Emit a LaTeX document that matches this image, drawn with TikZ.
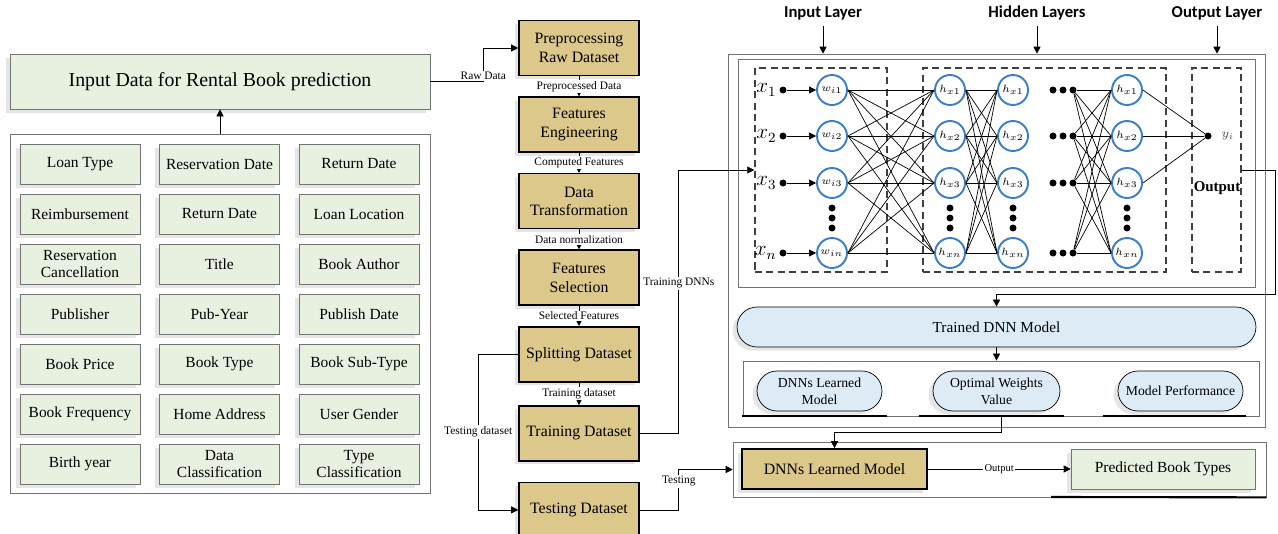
\documentclass[tikz,border=0pt]{standalone}
\usepackage{fontspec}
\setmainfont{Liberation Serif}
\newfontfamily\layerfont{Carlito}
\usetikzlibrary{positioning,arrows.meta,shadows}
\definecolor{attrgreen}{HTML}{E8F0E0}
\definecolor{stepgold}{HTML}{DCC88A}
\definecolor{pillblue}{HTML}{DDEBF6}
\definecolor{ringblue}{HTML}{3C7FC8}
\begin{document}
\begin{tikzpicture}[x=0.02cm,y=-0.02cm,>={Triangle[length=4pt,width=4pt]},
	softshadow/.style={drop shadow={shadow xshift=-2.5pt,shadow yshift=-2pt,fill=black,opacity=0.1}},
	attr/.style={draw=black!55,fill=attrgreen,softshadow,minimum width=2.4cm,minimum height=0.8cm,inner sep=1pt,align=center,font=\fontsize{8.8}{9.6}\selectfont},
	stepbox/.style={draw=black,line width=0.9pt,fill=stepgold,softshadow,minimum width=2.4cm,minimum height=1.1cm,inner sep=1pt,align=center,font=\fontsize{9}{10.5}\selectfont},
	flowlabel/.style={fill=white,inner sep=0.8pt,font=\fontsize{6.5}{7}\selectfont},
	pill/.style={draw=black,fill=pillblue,softshadow,rounded corners=0.4cm,minimum height=0.8cm,align=center,inner sep=1pt},
	panel/.style={draw=black!55},
	layerbox/.style={draw=black!75,line width=0.8pt,dash pattern=on 4pt off 2.5pt},
	neuron/.style={circle,draw=ringblue,line width=1.1pt,fill=white,minimum size=0.6cm,inner sep=0pt,font=\fontsize{6.3}{7}\selectfont},
	dot/.style={circle,fill=black,minimum size=0.14cm,inner sep=0pt},
	layertitle/.style={font=\layerfont\bfseries\fontsize{9.5}{10}\selectfont}]
	\useasboundingbox (0,0) rectangle (1278,534);
	\node[attr,minimum width=8.4cm,minimum height=1.1cm,font=\fontsize{11.3}{12}\selectfont] (title) at (220,81.5) {Input Data for Rental Book prediction};
	\node[panel,minimum width=8.4cm,minimum height=7.18cm] (attrs) at (220,313.5) {};
	\foreach \txt [count=\i from 0] in {Loan Type,Reservation Date,Return Date,Reimbursement,Return Date,Loan Location,{Reservation\\Cancellation},Title,Book Author,Publisher,Pub-Year,Publish Date,Book Price,Book Type,Book Sub-Type,Book Frequency,Home Address,User Gender,Birth year,{Data\\Classification},{Type\\Classification}}{
		\pgfmathtruncatemacro{\row}{\i/3}
		\pgfmathtruncatemacro{\col}{mod(\i,3)}
		\node[attr] (a\i) at (80+139.5*\col,164+50*\row) {\txt};
	}
	\draw[->] (attrs.north) -- (title.south);

	\node[stepbox] (prep) at (579,48) {Preprocessing\\Raw Dataset};
	\node[stepbox,below=0.4cm of prep] (feng) {Features\\Engineering};
	\node[stepbox,below=0.4cm of feng] (trans) {Data\\Transformation};
	\node[stepbox,below=0.4cm of trans] (fsel) {Features\\Selection};
	\node[stepbox,below=0.4cm of fsel] (split) {Splitting Dataset};
	\node[stepbox,below=0.45cm of split] (train) {Training Dataset};
	\node[stepbox,below=0.4cm of train] (test) {Testing Dataset};

	\node[layertitle] (inlab) at (823,13) {Input Layer};
	\node[layertitle] (hidlab) at (1037,13) {Hidden Layers};
	\node[layertitle] (outlab) at (1217,13) {Output Layer};
	\node[panel,minimum width=10.74cm,minimum height=7.46cm] (nnouter) at (996.5,240.5) {};
	\node[panel,minimum width=10.34cm,minimum height=4.56cm] (nninner) at (996.5,173) {};
	\node[layerbox,minimum width=2.64cm,minimum height=4.08cm] (inbox) at (821,170) {};
	\node[layerbox,minimum width=4.86cm,minimum height=4.08cm] (hidbox) at (1044.5,170) {};
	\node[layerbox,minimum width=0.98cm,minimum height=4.08cm] (outbox) at (1216.5,170) {};
	\draw[->] (inlab) -- (inlab |- nnouter.north);
	\draw[->] (hidlab) -- (hidlab |- nnouter.north);
	\draw[->] (outlab) -- (outlab |- nnouter.north);

	\foreach \r/\y in {1/90,2/136,3/183,n/253}{
		\node[dot] (d\r) at (783,\y) {};
		\node[font=\fontsize{11.5}{12}\selectfont,left=-2pt of d\r] (x\r) {$x_{\r}$};
		\node[neuron] (w\r) at (832,\y) {$w_{i\r}$};
		\node[neuron] (ha\r) at (950,\y) {$h_{x\r}$};
		\node[neuron] (hb\r) at (1013,\y) {$h_{x\r}$};
		\node[dot] (ea\r) at (1053,\y) {};
		\node[dot] (eb\r) at (1063,\y) {};
		\node[dot] (e\r) at (1073,\y) {};
		\node[neuron] (hc\r) at (1127,\y) {$h_{x\r}$};
		\draw[->] (d\r) -- (w\r);
	}
	\foreach \cx in {832,950,1013,1127}
		\foreach \cy in {208,218,228}
			\fill (\cx,\cy) circle (3.5);
	\foreach \a in {1,2,3,n}
		\foreach \b in {1,2,3,n}{
			\draw (w\a.east) -- (ha\b.west);
			\draw (ha\a.east) -- (hb\b.west);
			\draw (e\a) -- (hc\b.west);
		}
	\node[dot] (y) at (1208,136) {};
	\node[right=2pt of y,font=\fontsize{7.5}{8}\selectfont,text=black!70] (ylab) {$y_i$};
	\foreach \a in {1,2,3}
		\draw (hc\a.east) -- (y);
	\node[font=\bfseries\fontsize{8.5}{9}\selectfont] (outtxt) at (1217,188) {Output};

	\node[pill,minimum width=10.38cm,font=\fontsize{8.7}{9}\selectfont] (trained) at (996.5,327) {Trained DNN Model};
	\node[panel,minimum width=10.32cm,minimum height=1.1cm] (results) at (1001,388.5) {};
	\node[pill,minimum width=2.5cm,font=\fontsize{7.8}{9.5}\selectfont] (learnedpill) at (819.5,391) {DNNs Learned\\Model};
	\node[pill,minimum width=2.54cm,font=\fontsize{7.8}{9.5}\selectfont] (weights) at (996.5,391) {Optimal Weights\\Value};
	\node[pill,minimum width=2.5cm,font=\fontsize{7.8}{9.5}\selectfont] (perf) at (1180.5,391) {Model Performance};
	\draw[line width=1.2pt] (742,416) -- (887,416) (919,416) -- (1064,416) (1103,416) -- (1246,416);

	\node[panel,minimum width=10.66cm,minimum height=1.1cm] (runbox) at (999.5,469.5) {};
	\node[stepbox,minimum width=3.7cm,minimum height=0.8cm] (learned) at (834.5,469) {DNNs Learned Model};
	\node[attr,minimum width=3.68cm] (predicted) at (1163,469) {Predicted Book Types};
	\draw[line width=1.2pt] (1051,497) -- (runbox.south east);

	\draw[->] (title.east) -- ++(53,0) node[flowlabel,above] {Raw Data} |- (prep.west);
	\draw[->] (prep) -- node[flowlabel] {Preprocessed Data} (feng);
	\draw[->] (feng) -- node[flowlabel] {Computed Features} (trans);
	\draw[->] (trans) -- node[flowlabel] {Data normalization} (fsel);
	\draw[->] (fsel) -- node[flowlabel] {Selected Features} (split);
	\draw[->] (split) -- node[flowlabel] {Training dataset} (train);
	\draw[->] (split.west) -- ++(-40,0) |- node[flowlabel,pos=0.25] {Testing dataset} (test.west);
	\draw[->] (train.east) -- ++(39,0) |- node[flowlabel,pos=0.285] {Training DNNs} (inbox.west);
	\draw[->] (test.east) -- ++(39,0) |- node[flowlabel,pos=0.355] {Testing} (runbox.west);
	\draw[->] (outbox.east) -| ++(34,124) -| (trained.north);
	\draw[->] (trained.south) -- (trained.south |- results.north);
	\draw[->] (results.south) -- ++(0,16) -| (learned.north);
	\draw[->] (learned) -- node[flowlabel,font=\fontsize{6}{6}\selectfont] {Output} (predicted);
\end{tikzpicture}
\end{document}
